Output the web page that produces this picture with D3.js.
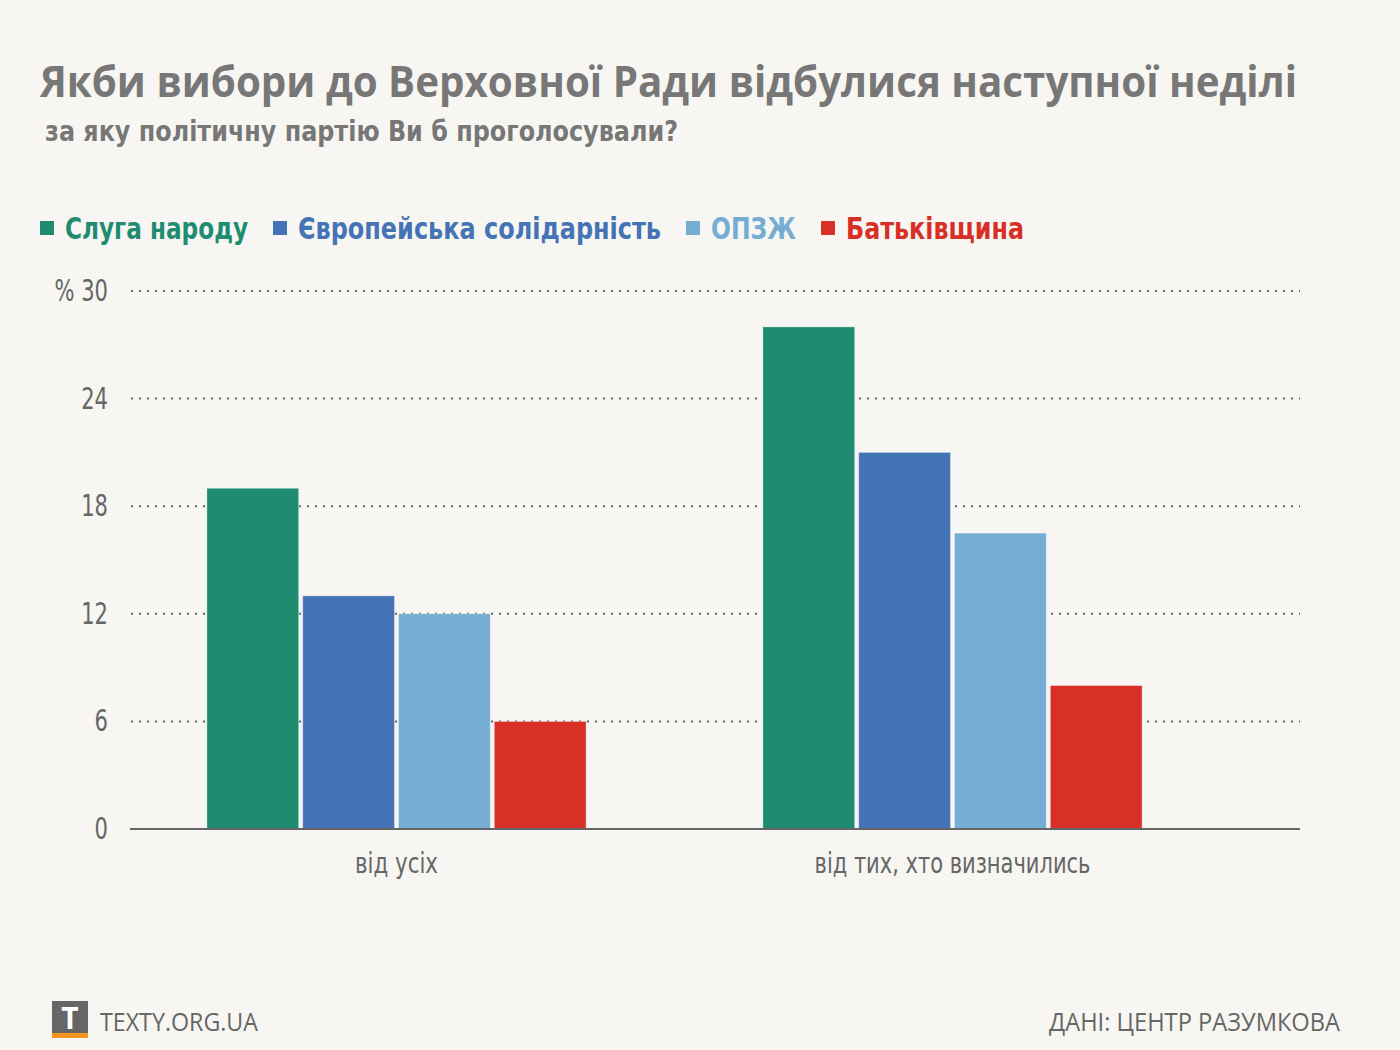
<!DOCTYPE html>
<html><head><meta charset="utf-8">
<script src="https://cdn.jsdelivr.net/npm/d3@7"></script>
<style>
body{margin:0;background:#f7f6f2;}
svg{display:block;}
</style></head>
<body>
<svg id="chart" width="1400" height="1050"></svg>
<script>
const groups = ["від усіх", "від тих, хто визначились"];
const parties = ["Слуга народу", "Європейська солідарність", "ОПЗЖ", "Батьківщина"];
const colors = ["#1f8c72", "#4474b5", "#76aed3", "#d83027"];
const valuesAll = [19.0, 13.0, 12.0, 6.0];
const valuesDecided = [28.0, 21.0, 16.5, 8.0];
const yTicks = [0, 6, 12, 18, 24, 30];

const series = [valuesAll, valuesDecided];
const svg = d3.select("#chart");
svg.append("rect").attr("width",1400).attr("height",1050).attr("fill","#f7f6f2");

const narrow = "'DejaVu Sans Condensed','Liberation Sans Narrow','Noto Sans',sans-serif";
const bold = "'Open Sans','Noto Sans',sans-serif";

// title
svg.append("text").attr("x",40).attr("y",97)
  .attr("font-family",bold).attr("font-weight",700).attr("font-size",43)
  .attr("fill","#777").attr("textLength",1257).attr("lengthAdjust","spacingAndGlyphs")
  .text("Якби вибори до Верховної Ради відбулися наступної неділі");
svg.append("text").attr("x",45).attr("y",141)
  .attr("font-family",narrow).attr("font-weight",700).attr("font-size",28)
  .attr("fill","#777").attr("textLength",633).attr("lengthAdjust","spacingAndGlyphs")
  .text("за яку політичну партію Ви б проголосували?");

// legend
const legendX = [40, 273, 686, 821];
const legendW = [183, 363, 85, 178];
const lg = svg.append("g");
parties.forEach((p,i)=>{
  lg.append("rect").attr("x",legendX[i]).attr("y",221).attr("width",14).attr("height",14).attr("fill",colors[i]);
  lg.append("text").attr("x",legendX[i]+25).attr("y",239)
    .attr("font-family",narrow).attr("font-weight",700).attr("font-size",30)
    .attr("fill",colors[i]).attr("textLength",legendW[i]).attr("lengthAdjust","spacingAndGlyphs").text(p);
});

// scales
const y = d3.scaleLinear().domain([0,30]).range([829,291]);
const x0 = d3.scaleBand().domain(groups).range([118.5,1230.5]).paddingInner(0.318).paddingOuter(0.159);
const x1 = d3.scaleBand().domain(parties).range([0,x0.bandwidth()]).paddingInner(0.042);

// grid
const grid = svg.append("g");
yTicks.filter(t=>t>0).forEach(t=>{
  grid.append("line").attr("x1",131).attr("x2",1300).attr("y1",y(t)).attr("y2",y(t))
    .attr("stroke","#666").attr("stroke-width",2).attr("stroke-dasharray","2,6");
});

// y labels (condensed)
const yl = svg.append("g");
yTicks.forEach(t=>{
  yl.append("text").attr("transform",`translate(108,${y(t)+10}) scale(0.78,1)`).attr("text-anchor","end")
    .attr("font-family",narrow).attr("font-size",30).attr("fill","#666")
    .text(t===30 ? "% 30" : t);
});

// bars
const catW = [83, 276];
groups.forEach((g,gi)=>{
  const gg = svg.append("g").attr("transform",`translate(${x0(g)},0)`);
  parties.forEach((p,pi)=>{
    const v = series[gi][pi];
    gg.append("rect").attr("x",x1(p)).attr("y",y(v)).attr("width",x1.bandwidth()).attr("height",y(0)-y(v))
      .attr("fill",colors[pi]).attr("stroke","rgba(255,255,255,0.35)").attr("stroke-width",1);
  });
  svg.append("text").attr("x",x0(g)+x0.bandwidth()/2 - catW[gi]/2).attr("y",873)
    .attr("font-family",narrow).attr("font-size",29).attr("fill","#666")
    .attr("textLength",catW[gi]).attr("lengthAdjust","spacingAndGlyphs").text(g);
});

// baseline
svg.append("line").attr("x1",130).attr("x2",1300).attr("y1",y(0)).attr("y2",y(0))
  .attr("stroke","#666").attr("stroke-width",2);

// footer
svg.append("rect").attr("x",52).attr("y",1001).attr("width",36).attr("height",32).attr("fill","#666");
svg.append("rect").attr("x",52).attr("y",1033).attr("width",36).attr("height",5).attr("fill","#f7941d");
svg.append("text").attr("x",70).attr("y",1029).attr("text-anchor","middle")
  .attr("font-family",bold).attr("font-weight",700).attr("font-size",30).attr("fill","#fff").text("T");
svg.append("text").attr("x",100).attr("y",1031)
  .attr("font-family","'Open Sans','Noto Sans',sans-serif").attr("font-size",25).attr("fill","#666")
  .attr("textLength",158).attr("lengthAdjust","spacingAndGlyphs").text("TEXTY.ORG.UA");
svg.append("text").attr("x",1340).attr("y",1031).attr("text-anchor","end")
  .attr("font-family","'Open Sans','Noto Sans',sans-serif").attr("font-size",25).attr("fill","#666")
  .attr("textLength",291).attr("lengthAdjust","spacingAndGlyphs").text("ДАНІ: ЦЕНТР РАЗУМКОВА");
</script>
</body></html>
